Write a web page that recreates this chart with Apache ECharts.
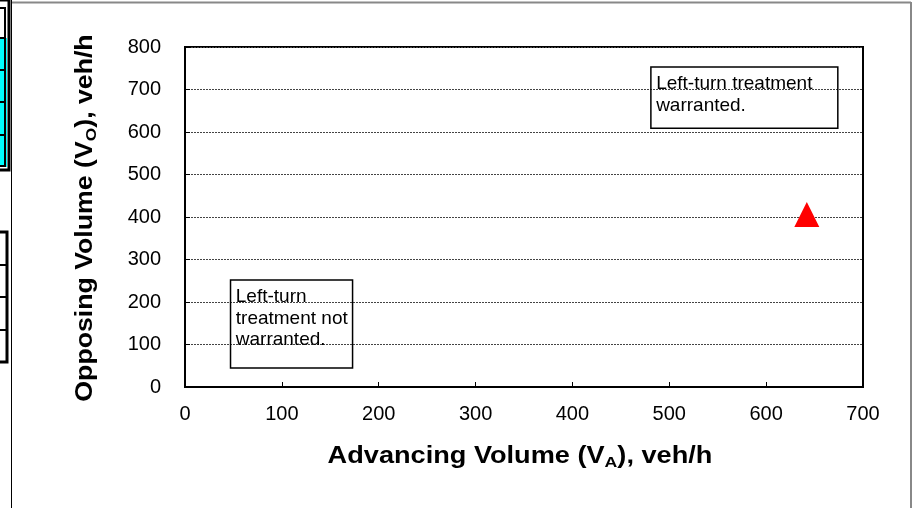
<!DOCTYPE html>
<html>
<head>
<meta charset="utf-8">
<script src="https://cdn.jsdelivr.net/npm/echarts@6/dist/echarts.min.js"></script>
<style>
html,body{margin:0;padding:0;background:#fff;}
#chart{width:915px;height:508px;}
</style>
</head>
<body>
<div id="chart"></div>
<script>
// ---- data ----
const xTicks = [0, 100, 200, 300, 400, 500, 600, 700];
const yTicks = [0, 100, 200, 300, 400, 500, 600, 700, 800];
const pointData = [[642, 406]];
const noteWarranted = { text: 'Left-turn treatment\nwarranted.', x0: 481, x1: 674, y0: 609, y1: 753 };
const noteNotWarranted = { text: 'Left-turn\ntreatment not\nwarranted.', x0: 47, x1: 173, y0: 45, y1: 252 };
const xName = 'Advancing Volume (V';
const xSub = 'A';
const xNameEnd = '), veh/h';
const yName = 'Opposing Volume (V';
const ySub = 'O';
const yNameEnd = '), veh/h';

const FONT = '"Liberation Sans", Arial, sans-serif';
const chart = echarts.init(document.getElementById('chart'), null, { renderer: 'canvas' });

function noteArea(n) {
  return [
    { coord: [n.x0, n.y1], name: n.text },
    { coord: [n.x1, n.y0] }
  ];
}

const nameRich = {
  n: { fontSize: 23, fontWeight: 'bold', fontFamily: FONT, fill: '#000', lineHeight: 26 },
  s: { fontSize: 15, fontWeight: 'bold', fontFamily: FONT, fill: '#000', padding: [11, 0, 0, 0], lineHeight: 26 }
};

const GRID = { left: 185, top: 47, width: 678, height: 340 };

const option = {
  backgroundColor: '#fff',
  animation: false,
  grid: {
    left: GRID.left, top: GRID.top, width: GRID.width, height: GRID.height,
    show: true, borderColor: '#000', borderWidth: 2, backgroundColor: 'transparent'
  },
  xAxis: {
    type: 'value', min: xTicks[0], max: xTicks[xTicks.length - 1], interval: 100,
    axisLine: { show: true, lineStyle: { color: '#000', width: 2 } },
    axisTick: { show: true, inside: true, length: 5, lineStyle: { color: '#000', width: 1 } },
    axisLabel: { color: '#000', fontSize: 20, fontFamily: FONT, margin: 17 },
    splitLine: { show: false }
  },
  yAxis: {
    type: 'value', min: yTicks[0], max: yTicks[yTicks.length - 1], interval: 100,
    axisLine: { show: true, lineStyle: { color: '#000', width: 2 } },
    axisTick: { show: true, inside: true, length: 5, lineStyle: { color: '#000', width: 1 } },
    axisLabel: { color: '#000', fontSize: 20, fontFamily: FONT, margin: 24, padding: [5, 0, 0, 0] },
    splitLine: { show: true, lineStyle: { color: '#444', width: 1, type: [2, 1] } }
  },
  series: [
    {
      type: 'scatter',
      data: pointData,
      symbol: 'triangle',
      symbolSize: 25,
      itemStyle: { color: '#ff0000', opacity: 1 },
      z: 5,
      markArea: {
        silent: true,
        itemStyle: { color: 'rgba(0,0,0,0)', borderColor: '#000', borderWidth: 1.5 },
        label: {
          show: true, position: 'insideTopLeft', color: '#000', fontSize: 19,
          fontFamily: FONT, lineHeight: 21.5, padding: [7, 0, 0, 6], distance: 0
        },
        data: [noteArea(noteWarranted), noteArea(noteNotWarranted)]
      }
    }
  ],
  graphic: [
    // axis titles (slightly widened like the original)
    {
      type: 'text', x: GRID.left + GRID.width / 2 - 4, y: 457, scaleX: 1.18, silent: true,
      style: {
        text: '{n|' + xName + '}{s|' + xSub + '}{n|' + xNameEnd + '}',
        rich: nameRich, align: 'center', verticalAlign: 'middle'
      }
    },
    {
      type: 'text', x: 86, y: GRID.top + GRID.height / 2 + 1, rotation: Math.PI / 2, scaleX: 1.16, silent: true,
      style: {
        text: '{n|' + yName + '}{s|' + ySub + '}{n|' + yNameEnd + '}',
        rich: nameRich, align: 'center', verticalAlign: 'middle'
      }
    },
    // sheet frame
    { type: 'line', shape: { x1: 12, y1: 2.5, x2: 911, y2: 2.5 }, style: { stroke: '#888', lineWidth: 2 }, silent: true },
    { type: 'line', shape: { x1: 911, y1: 2, x2: 911, y2: 508 }, style: { stroke: '#888', lineWidth: 2 }, silent: true },
    { type: 'line', shape: { x1: 11.5, y1: 0, x2: 11.5, y2: 508 }, style: { stroke: '#000', lineWidth: 1 }, silent: true },
    // left table fragment 1
    { type: 'rect', shape: { x: -2, y: 38, width: 9, height: 129 }, style: { fill: '#00ffff' }, silent: true },
    { type: 'rect', shape: { x: -4, y: 0, width: 13, height: 170 }, style: { fill: 'none', stroke: '#000', lineWidth: 3 }, silent: true },
    { type: 'rect', shape: { x: -4, y: 8, width: 9, height: 158 }, style: { fill: 'none', stroke: '#000', lineWidth: 2 }, silent: true },
    { type: 'line', shape: { x1: 0, y1: 38, x2: 6, y2: 38 }, style: { stroke: '#000', lineWidth: 2 }, silent: true },
    { type: 'line', shape: { x1: 0, y1: 70, x2: 6, y2: 70 }, style: { stroke: '#000', lineWidth: 2 }, silent: true },
    { type: 'line', shape: { x1: 0, y1: 102, x2: 6, y2: 102 }, style: { stroke: '#000', lineWidth: 2 }, silent: true },
    { type: 'line', shape: { x1: 0, y1: 135, x2: 6, y2: 135 }, style: { stroke: '#000', lineWidth: 2 }, silent: true },
    // left table fragment 2
    { type: 'rect', shape: { x: -4, y: 232, width: 11, height: 130 }, style: { fill: 'none', stroke: '#000', lineWidth: 3 }, silent: true },
    { type: 'line', shape: { x1: 0, y1: 265, x2: 6, y2: 265 }, style: { stroke: '#000', lineWidth: 2 }, silent: true },
    { type: 'line', shape: { x1: 0, y1: 297, x2: 6, y2: 297 }, style: { stroke: '#000', lineWidth: 2 }, silent: true },
    { type: 'line', shape: { x1: 0, y1: 330, x2: 6, y2: 330 }, style: { stroke: '#000', lineWidth: 2 }, silent: true }
  ]
};
chart.setOption(option);
</script>
</body>
</html>
